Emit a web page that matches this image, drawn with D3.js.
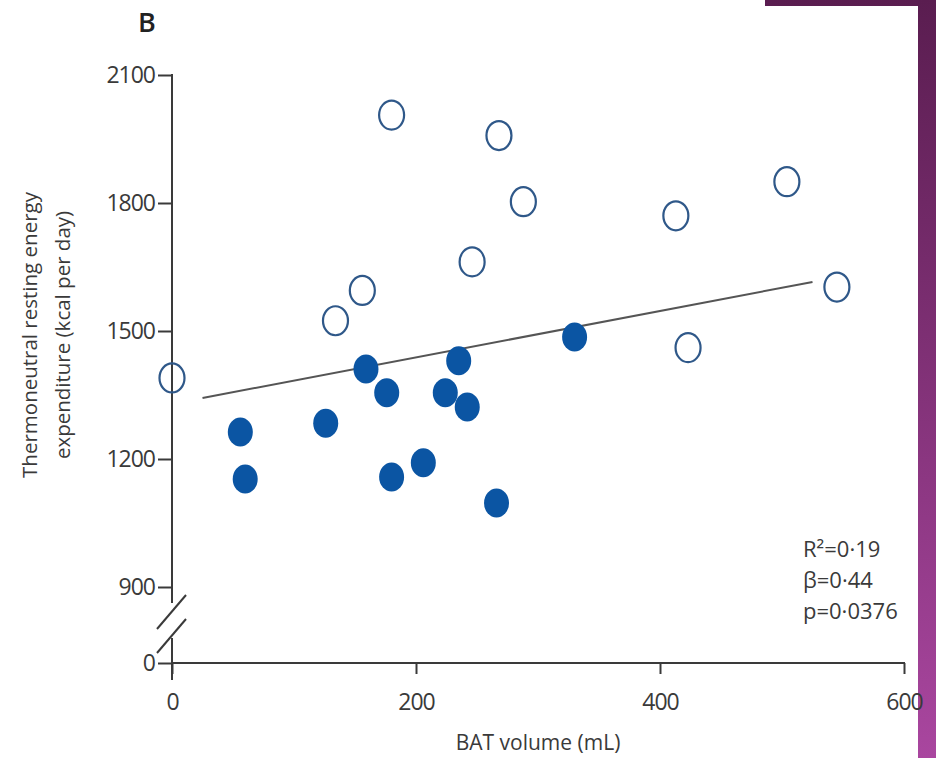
<!DOCTYPE html>
<html>
<head>
<meta charset="utf-8">
<script src="https://cdnjs.cloudflare.com/ajax/libs/d3/7.8.5/d3.min.js"></script>
<style>
  body { margin: 0; background: #fff; }
  svg text { font-family: "Open Sans", "Noto Sans", sans-serif; fill: #3a3a3a; }
</style>
</head>
<body>
<svg id="chart" width="936" height="758"></svg>
<script>
// BAT volume (mL) vs thermoneutral REE (kcal/day)
const openX = [0, 134, 156, 180, 246, 268, 288, 413, 423, 504, 545];
const openY = [1390, 1524, 1595, 2006, 1662, 1958, 1803, 1770, 1461, 1850, 1603];
const filledX = [56, 60, 126, 159, 176, 180, 206, 224, 235, 242, 266, 330];
const filledY = [1263, 1153, 1284, 1411, 1355, 1158, 1191, 1355, 1430, 1322, 1097, 1486];
const fitX = [25, 525];
const fitY = [1343, 1615];
const xTicks = [0, 200, 400, 600];
const yTicks = [0, 900, 1200, 1500, 1800, 2100];
const stats = ["R²=0·19", "β=0·44", "p=0·0376"];

const svg = d3.select("#chart");

// purple frame on the top right
const defs = svg.append("defs");
const grad = defs.append("linearGradient")
    .attr("id", "purple").attr("x1", 0).attr("y1", 0).attr("x2", 0).attr("y2", 1);
grad.append("stop").attr("offset", "0%").attr("stop-color", "#5a1d50");
grad.append("stop").attr("offset", "100%").attr("stop-color", "#a9469f");
svg.append("path")
    .attr("d", "M765,0 H936 V758 H918 V6 H765 Z")
    .attr("fill", "url(#purple)");

const xScale = d3.scaleLinear().domain([0, 600]).range([172, 904]);
// broken axis: 0 sits just below 900
const yScale = d3.scaleLinear().domain([0, 900, 2100]).range([663, 587, 75]);

// panel letter
svg.append("text")
    .attr("x", 147).attr("y", 32)
    .attr("text-anchor", "middle")
    .style("font-size", "27px").style("font-weight", "600")
    .style("fill", "#222")
    .text("B");

// y axis
const yAxis = svg.append("g")
    .attr("transform", `translate(${xScale(0)},0)`)
    .call(d3.axisLeft(yScale).tickValues(yTicks).tickFormat(d3.format("d")).tickSize(14).tickPadding(3));
yAxis.select(".domain").remove();
yAxis.selectAll("line").attr("stroke", "#3a3a3a").attr("stroke-width", 2);
yAxis.selectAll("text").style("font-size", "23px").style("fill", "#3a3a3a")
    .style("font-family", "'Open Sans', sans-serif").style("letter-spacing", "-1px").attr("dy", "0.34em");

const axisG = svg.append("g").attr("stroke", "#3a3a3a").attr("stroke-width", 2).attr("fill", "none");
axisG.append("line")
    .attr("x1", xScale(0)).attr("x2", xScale(0))
    .attr("y1", yScale(2100) - 1).attr("y2", yScale(900) + 16);
axisG.append("line")
    .attr("x1", xScale(0)).attr("x2", xScale(0))
    .attr("y1", yScale(0) - 25).attr("y2", yScale(0) + 17);
// break marks
[0, 24].forEach(off => {
  axisG.append("line")
    .attr("x1", xScale(0) - 15).attr("y1", 629 + off)
    .attr("x2", xScale(0) + 14).attr("y2", 595 + off);
});

// x axis
const xAxis = svg.append("g")
    .attr("transform", `translate(0,${yScale(0)})`)
    .call(d3.axisBottom(xScale).tickValues(xTicks).tickFormat(d3.format("d")).tickSize(11).tickPadding(20));
xAxis.select(".domain").remove();
xAxis.selectAll("line").attr("stroke", "#3a3a3a").attr("stroke-width", 2);
xAxis.selectAll("text").style("font-size", "23px").style("fill", "#3a3a3a")
    .style("font-family", "'Open Sans', sans-serif").style("letter-spacing", "-1px");
axisG.append("line")
    .attr("x1", xScale(0)).attr("x2", xScale(600) + 1)
    .attr("y1", yScale(0)).attr("y2", yScale(0));

// axis labels
svg.append("text")
    .attr("x", (xScale(0) + xScale(600)) / 2).attr("y", 750)
    .attr("text-anchor", "middle")
    .style("font-size", "21px")
    .text("BAT volume (mL)");

const yLabel = svg.append("text")
    .attr("transform", `translate(0,${(yScale(2100) + yScale(900)) / 2 + 4}) rotate(-90)`)
    .attr("text-anchor", "middle")
    .style("font-size", "20.5px");
yLabel.append("tspan").attr("x", 0).attr("y", 37).text("Thermoneutral resting energy");
yLabel.append("tspan").attr("x", 0).attr("y", 70).text("expenditure (kcal per day)");

// regression line
svg.append("line")
    .attr("x1", xScale(fitX[0])).attr("y1", yScale(fitY[0]))
    .attr("x2", xScale(fitX[1])).attr("y2", yScale(fitY[1]))
    .attr("stroke", "#555").attr("stroke-width", 2);

// points
svg.selectAll(".filled")
  .data(filledX.map((x, i) => ({ x, y: filledY[i] })))
  .enter().append("ellipse")
    .attr("class", "filled")
    .attr("cx", d => xScale(d.x)).attr("cy", d => yScale(d.y))
    .attr("rx", 12.5).attr("ry", 14.5)
    .attr("fill", "#0b55a3");

svg.selectAll(".open")
  .data(openX.map((x, i) => ({ x, y: openY[i] })))
  .enter().append("ellipse")
    .attr("class", "open")
    .attr("cx", d => xScale(d.x)).attr("cy", d => yScale(d.y))
    .attr("rx", 12.5).attr("ry", 14.5)
    .attr("fill", "none")
    .attr("stroke", "#2f5889").attr("stroke-width", 2.2);

// stats
svg.selectAll(".stat")
  .data(stats)
  .enter().append("text")
    .attr("class", "stat")
    .attr("x", 803).attr("y", (d, i) => 557 + i * 31)
    .style("font-size", "22px")
    .text(d => d);
</script>
</body>
</html>
